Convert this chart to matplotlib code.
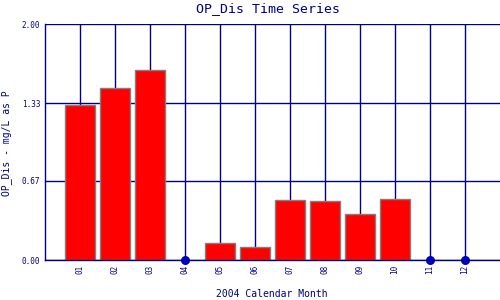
import matplotlib
matplotlib.use("Agg")
import matplotlib.pyplot as plt
import numpy as np

months = ["01", "02", "03", "04", "05", "06", "07", "08", "09", "10", "11", "12"]
values = [1.31, 1.46, 1.61, 0.0, 0.14, 0.107, 0.506, 0.497, 0.387, 0.514, 0.0, 0.0]
missing = [False, False, False, True, False, False, False, False, False, False, True, True]
yticks = [0.0, 0.67, 1.33, 2.00]
ytick_labels = ["0.00", "0.67", "1.33", "2.00"]

navy = "#000080"
fig = plt.figure(figsize=(5, 3), dpi=100)
ax = fig.add_axes([45/500, 40/300, 455/500, 236/300])
x = np.arange(1, len(months) + 1)

ax.bar([xi for xi, m in zip(x, missing) if not m],
       [v for v, m in zip(values, missing) if not m],
       width=0.86, color="red", edgecolor="#808080", linewidth=1.0, zorder=3)
ax.scatter([xi for xi, m in zip(x, missing) if m],
           [0 for m in missing if m], s=30, color="#0000CC", zorder=4, clip_on=False)

ax.set_xlim(0, 13)
ax.set_ylim(0, 2.0)
ax.set_xticks(x)
ax.set_xticklabels(months, rotation=90, fontsize=5.5, family="DejaVu Sans Mono", color=navy)
ax.set_yticks(yticks)
ax.set_yticklabels(ytick_labels, fontsize=5.5, family="DejaVu Sans Mono", color=navy)
ax.tick_params(length=0, pad=3.5)
ax.grid(True, color=navy, linewidth=1.0, zorder=1)
ax.set_axisbelow(True)
for s in ["top", "right"]:
    ax.spines[s].set_visible(False)
for s in ["left", "bottom"]:
    ax.spines[s].set_color(navy)
    ax.spines[s].set_linewidth(1.0)
    ax.spines[s].set_zorder(5)

fig.text(0.536, 0.972, "OP_Dis Time Series", ha="center", va="center",
         fontsize=9.5, family="DejaVu Sans Mono", color=navy)
fig.text(0.543, 0.02, "2004 Calendar Month", ha="center", va="center",
         fontsize=7, family="DejaVu Sans Mono", color=navy)
fig.text(0.014, 0.523, "OP_Dis - mg/L as P", ha="center", va="center", rotation=90,
         fontsize=7, family="DejaVu Sans Mono", color=navy)

fig.savefig("out.png", dpi=100)
